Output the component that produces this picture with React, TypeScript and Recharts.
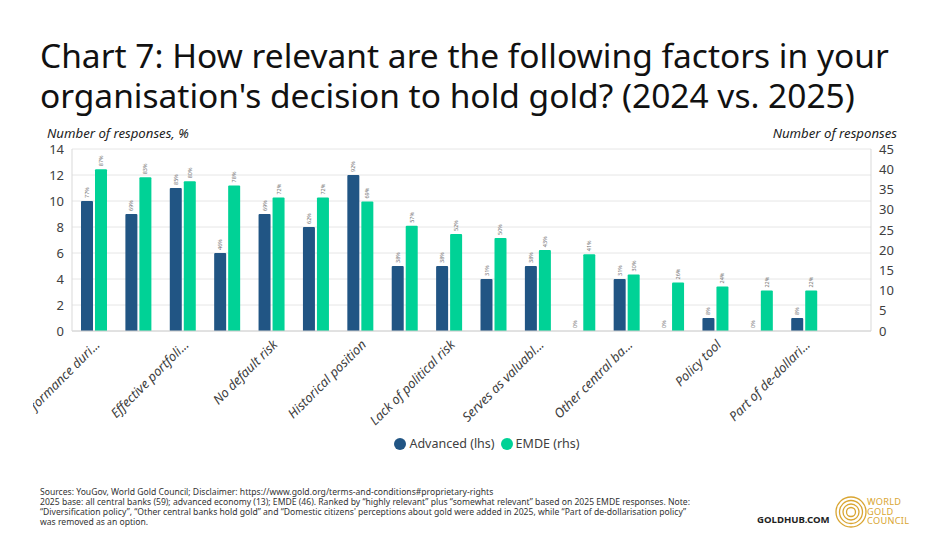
import React from "react";
import {
  BarChart,
  Bar,
  XAxis,
  YAxis,
  CartesianGrid,
  LabelList,
} from "recharts";

const BLUE = "#215584";
const GREEN = "#00D296";
const GOLD = "#D9A531";
const TEXT = "#404040";

const categories = [
  "Performance during times of crisis",
  "Long-term store of value",
  "Effective portfolio diversifier",
  "Diversification policy",
  "No default risk",
  "Highly liquid",
  "Historical position",
  "Inflation hedge",
  "Lack of political risk",
  "Geopolitical diversifier",
  "Serves as valuable collateral",
  "Domestic citizens' perceptions about gold",
  "Other central banks hold gold",
  "Reserve management requirement",
  "Policy tool",
  "Part of broader strategy",
  "Part of de-dollarisation policy",
  "",
];

// labels as they appear under the axis (every other category)
const tickLabels = [
  "Performance duri...",
  "",
  "Effective portfoli...",
  "",
  "No default risk",
  "",
  "Historical position",
  "",
  "Lack of political risk",
  "",
  "Serves as valuabl...",
  "",
  "Other central ba...",
  "",
  "Policy tool",
  "",
  "Part of de-dollari...",
  "",
];

const advanced = [10, 9, 11, 6, 9, 8, 12, 5, 5, 4, 5, 0, 4, 0, 1, 0, 1, null];
const emde = [40, 38, 37, 36, 33, 33, 32, 26, 24, 23, 20, 19, 14, 12, 11, 10, 10, null];

const advancedPct = ["77%", "69%", "85%", "46%", "69%", "62%", "92%", "38%", "38%", "31%", "38%", "0%", "31%", "0%", "8%", "0%", "8%", ""];
const emdePct = ["87%", "83%", "80%", "78%", "72%", "72%", "69%", "57%", "52%", "50%", "43%", "41%", "30%", "26%", "24%", "22%", "22%", ""];

const leftTicks = [0, 2, 4, 6, 8, 10, 12, 14];
const rightTicks = [0, 5, 10, 15, 20, 25, 30, 35, 40, 45];

const BAR_SIZE = 12;
const BAR_GAP = 2;

const rows = categories.map((name, i) => ({
  name,
  advanced: advanced[i],
  emde: emde[i],
  advancedPct: advancedPct[i],
  emdePct: emdePct[i],
}));

function pctText(cx: number, ty: number, value: string, key?: string) {
  return (
    <text
      key={key}
      x={cx}
      y={ty}
      transform={`rotate(-90, ${cx}, ${ty})`}
      textAnchor="start"
      dominantBaseline="central"
      fontSize={5.5}
      fill="#707070"
    >
      {value}
    </text>
  );
}

function AdvancedLabel(props: any) {
  const { x, y, width, height, value } = props;
  // zero-height bars are labelled from the EMDE side
  if (!value || !height) return null;
  return pctText(x + width / 2, y - 3, value);
}

function EmdeLabel(props: any) {
  const { x, y, width, height, value, index } = props;
  if (!value) return null;
  const out = [pctText(x + width / 2, y - 3, value, "e")];
  if (advanced[index] === 0) {
    const bx = x - BAR_GAP - width / 2;
    out.push(pctText(bx, y + height - 3, advancedPct[index], "a"));
  }
  return <g>{out}</g>;
}

function Logo() {
  return (
    <svg width={36} height={34} viewBox="0 0 36 34">
      {[15, 11.5, 8, 4.5].map((r) => (
        <circle key={r} cx={17} cy={17} r={r} fill="none" stroke={GOLD} strokeWidth={1.3} />
      ))}
    </svg>
  );
}

export default function App() {
  return (
    <div
      style={{
        position: "absolute",
        left: 0,
        top: 0,
        width: 948,
        height: 533,
        background: "#fff",
        fontFamily: "'Noto Sans', sans-serif",
        color: TEXT,
        overflow: "hidden",
      }}
    >
      <div
        style={{
          position: "absolute",
          left: 40,
          top: 35,
          fontSize: 33.5,
          lineHeight: "40px",
          color: "#111",
          whiteSpace: "nowrap",
        }}
      >
        Chart 7: How relevant are the following factors in your
        <br />
        organisation's decision to hold gold? (2024 vs. 2025)
      </div>

      <div style={{ position: "absolute", left: 47, top: 124, fontSize: 13.2, fontStyle: "italic", color: "#222" }}>
        Number of responses, %
      </div>
      <div style={{ position: "absolute", right: 51, top: 124, fontSize: 13.2, fontStyle: "italic", color: "#222" }}>
        Number of responses
      </div>

      {/* clip box: the first axis label is cut at the left, as in the source */}
      <div style={{ position: "absolute", left: 33, top: 140, width: 880, height: 290, overflow: "hidden" }}>
        <div style={{ position: "absolute", left: -5, top: 0 }}>
          <BarChart
            width={880}
            height={290}
            data={rows}
            margin={{ top: 9, right: 7, left: 4, bottom: 0 }}
            barGap={BAR_GAP}
            barSize={BAR_SIZE}
          >
            <CartesianGrid yAxisId="left" vertical={false} stroke="#e6e6e6" />
            <XAxis
              dataKey="name"
              interval={0}
              height={99}
              tickLine={false}
              axisLine={{ stroke: "#d0d0d0" }}
              angle={-45}
              textAnchor="end"
              tick={{ fontSize: 13, fontStyle: "italic", fill: TEXT }}
              tickFormatter={(_v: string, i: number) => tickLabels[i]}
            />
            <YAxis
              yAxisId="left"
              domain={[0, 14]}
              ticks={leftTicks}
              interval={0}
              width={40}
              tickLine={false}
              axisLine={{ stroke: "#d9d9d9" }}
              tick={{ fontSize: 13, fill: TEXT }}
            />
            <YAxis
              yAxisId="right"
              orientation="right"
              domain={[0, 45]}
              ticks={rightTicks}
              interval={0}
              width={30}
              tickLine={false}
              axisLine={{ stroke: "#d9d9d9" }}
              tick={{ fontSize: 13, fill: TEXT, textAnchor: "start" }}
            />
            <Bar yAxisId="left" dataKey="advanced" fill={BLUE} radius={[1, 1, 0, 0]} isAnimationActive={false}>
              <LabelList dataKey="advancedPct" content={AdvancedLabel} />
            </Bar>
            <Bar yAxisId="right" dataKey="emde" fill={GREEN} radius={[1, 1, 0, 0]} isAnimationActive={false}>
              <LabelList dataKey="emdePct" content={EmdeLabel} />
            </Bar>
          </BarChart>
        </div>
      </div>

      <div
        style={{
          position: "absolute",
          left: 0,
          width: 974,
          top: 435,
          display: "flex",
          justifyContent: "center",
          alignItems: "center",
          fontSize: 12.5,
          color: TEXT,
        }}
      >
        <span style={{ width: 12, height: 12, borderRadius: 6, background: BLUE, marginRight: 3 }} />
        <span style={{ marginRight: 6 }}>Advanced (lhs)</span>
        <span style={{ width: 12, height: 12, borderRadius: 6, background: GREEN, marginRight: 3 }} />
        <span>EMDE (rhs)</span>
      </div>

      <div
        style={{
          position: "absolute",
          left: 40,
          top: 488,
          fontSize: 8.6,
          lineHeight: "9.9px",
          color: "#333",
          whiteSpace: "nowrap",
        }}
      >
        Sources: YouGov, World Gold Council; Disclaimer: https://www.gold.org/terms-and-conditions#proprietary-rights
        <br />
        2025 base: all central banks (59); advanced economy (13); EMDE (46). Ranked by “highly relevant” plus “somewhat relevant” based on 2025 EMDE responses. Note:
        <br />
        “Diversification policy”, “Other central banks hold gold” and “Domestic citizens' perceptions about gold were added in 2025, while “Part of de-dollarisation policy”
        <br />
        was removed as an option.
      </div>

      <div style={{ position: "absolute", left: 757, top: 513, fontSize: 9.6, fontWeight: 700, color: "#222" }}>
        GOLDHUB.COM
      </div>
      <div style={{ position: "absolute", left: 834, top: 495 }}>
        <Logo />
      </div>
      <div
        style={{
          position: "absolute",
          left: 867,
          top: 497,
          fontSize: 9.2,
          lineHeight: "9.6px",
          color: GOLD,
          letterSpacing: 0.3,
        }}
      >
        WORLD
        <br />
        GOLD
        <br />
        COUNCIL
      </div>
    </div>
  );
}
